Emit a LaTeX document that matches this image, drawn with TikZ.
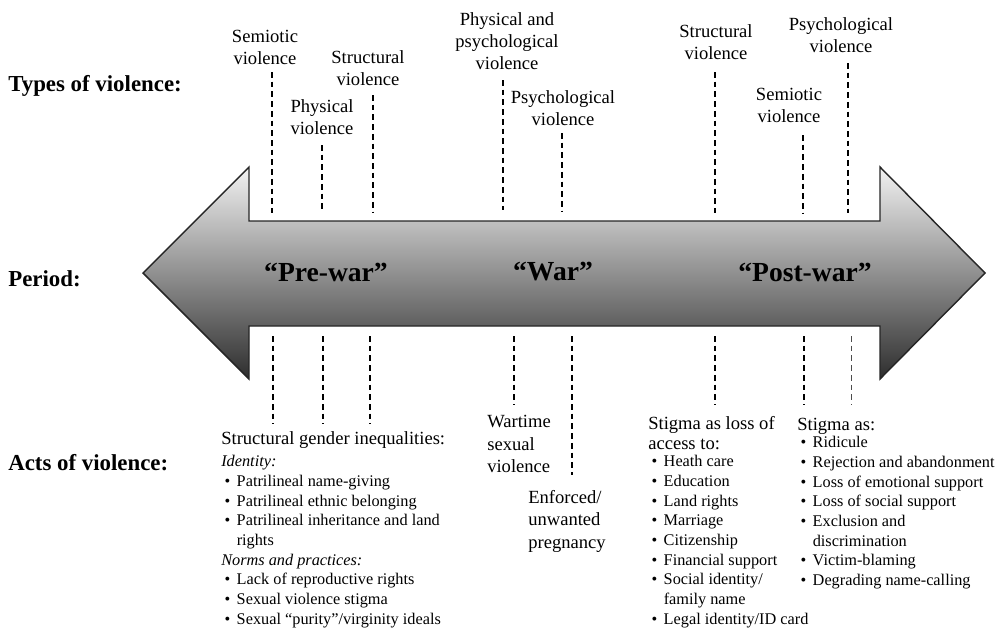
\documentclass[tikz,border=0pt]{standalone}
\usepackage{fontspec}
\setmainfont{Liberation Serif}
\newcommand{\itm}{\hspace*{0.2em}\makebox[0.75em][l]{\textbullet}}
\newcommand{\cnt}{\hspace*{0.95em}}

\begin{document}
\begin{tikzpicture}[x=0.7pt,y=-0.7pt,rowlab/.style={anchor=west,inner sep=0pt,font=\fontsize{16}{18}\selectfont\bfseries},period/.style={inner sep=0pt,font=\fontsize{19.3}{22}\selectfont\bfseries},vtype/.style={inner sep=0pt,align=center,font=\fontsize{13}{15.4}\selectfont},wlab/.style={anchor=north west,inner sep=0pt,align=left,font=\fontsize{13}{15.7}\selectfont},head/.style={anchor=north west,inner sep=0pt,align=left,font=\fontsize{13}{13.8}\selectfont},lst/.style={anchor=north west,inner sep=0pt,align=left,font=\fontsize{11.4}{13.8}\selectfont},vline/.style={line width=1.2pt,dash pattern=on 4pt off 2.8pt},timeline/.style={draw=black!85,line width=1pt,top color=black!5,bottom color=black!82}]
\useasboundingbox (0,0) rectangle (1001,628);
\node[rowlab] (types) at (8,86) {Types of violence:};
\node[rowlab] (per) at (8,279) {Period:};
\node[rowlab] (acts) at (8,463) {Acts of violence:};
\path[timeline] (143,273) -- (249,167) -- (249,221) -- (880,221) -- (880,167) -- (985,273) -- (880,379) -- (880,326) -- (249,326) -- (249,379) -- cycle;
\node[period] (pre) at (326,272) {“Pre-war”};
\node[period] (war) at (553,272) {“War”};
\node[period] (post) at (805,272) {“Post-war”};
\node[vtype] (semA) at (265,47) {Semiotic\\violence};
\node[vtype] (phyA) at (322,117) {Physical\\violence};
\node[vtype] (strA) at (368,68) {Structural\\violence};
\node[vtype] (ppB) at (507,41) {Physical and\\psychological\\violence};
\node[vtype] (psyB) at (563,108) {Psychological\\violence};
\node[vtype] (strC) at (716,42) {Structural\\violence};
\node[vtype] (semC) at (789,105) {Semiotic\\violence};
\node[vtype] (psyC) at (841,35) {Psychological\\violence};
\foreach \n/\x/\ya/\yb in {sa/272/72/213,pa/322/145/213,ta/373/95/213,qb/503/80/210,yb/562/133/212,tc/715/72/213,sc/803/135/213,yc/848/63/213,ga/273/336/424,gb/323/336/424,gc/370/336/424,wb/514/336/405,eb/572/336/475,lc/715/336/405,rc/804/336/405} {\coordinate (\n1) at (\x,\ya); \coordinate (\n2) at (\x,\yb); \draw[vline] (\n1) -- (\n2);}
\coordinate (dc1) at (851,336); \coordinate (dc2) at (851,405);
\draw[line width=0.6pt,black!70,dash pattern=on 4pt off 2.8pt] (dc1) -- (dc2);
\node[head] (preHead) at (221,431) {Structural gender inequalities:};
\node[lst] (preList) at (221,455) {\textit{Identity:}\\\itm Patrilineal name-giving\\\itm Patrilineal ethnic belonging\\\itm Patrilineal inheritance and land\\\cnt rights\\\textit{Norms and practices:}\\\itm Lack of reproductive rights\\\itm Sexual violence stigma\\\itm Sexual “purity”/virginity ideals};
\node[wlab] (wsv) at (487,415) {Wartime\\sexual\\violence};
\node[wlab] (enf) at (528,490) {Enforced/\\unwanted\\pregnancy};
\node[head] (accHead) at (648,416) {Stigma as loss of\\access to:};
\node[lst] (accList) at (648,455) {\itm Heath care\\\itm Education\\\itm Land rights\\\itm Marriage\\\itm Citizenship\\\itm Financial support\\\itm Social identity/\\\cnt family name\\\itm Legal identity/ID card};
\node[head] (stgHead) at (797,418) {Stigma as:};
\node[lst] (stgList) at (797,436) {\itm Ridicule\\\itm Rejection and abandonment\\\itm Loss of emotional support\\\itm Loss of social support\\\itm Exclusion and\\\cnt discrimination\\\itm Victim-blaming\\\itm Degrading name-calling};
\end{tikzpicture}
\end{document}
